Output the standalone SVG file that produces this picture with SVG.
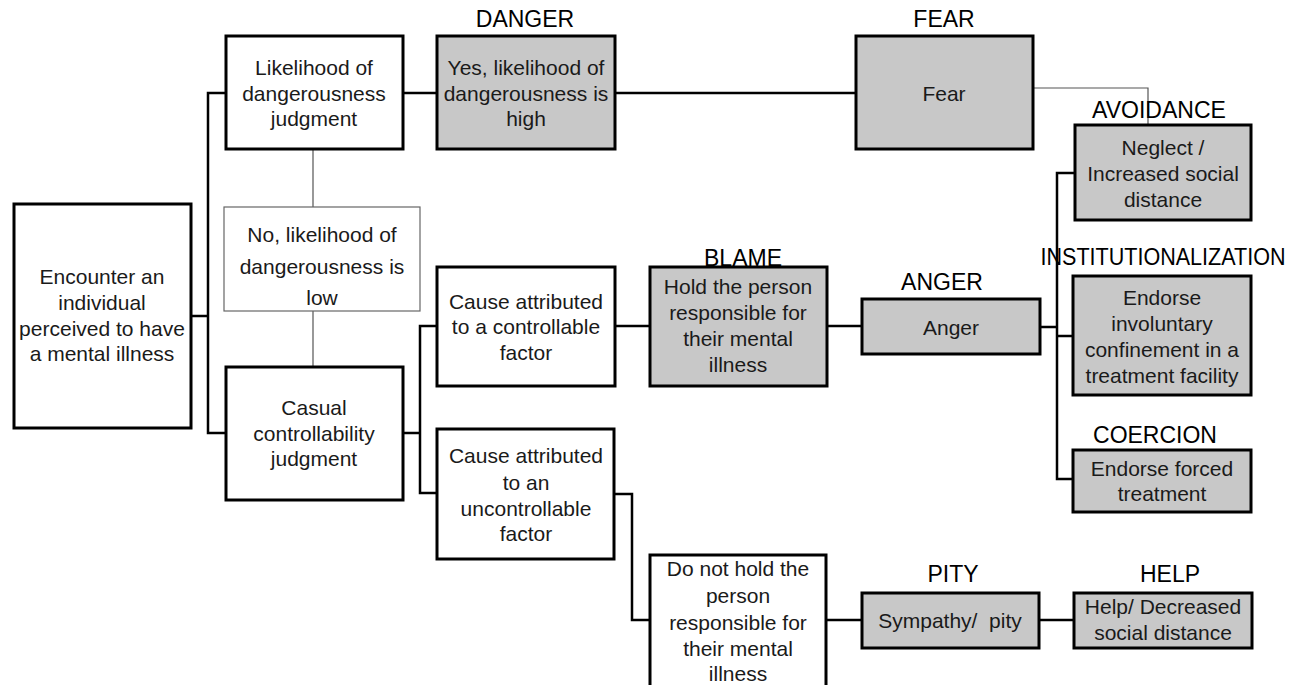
<svg xmlns="http://www.w3.org/2000/svg" width="1303" height="685" viewBox="0 0 1303 685">
<style>
.box{fill:#fff;stroke:#000;stroke-width:3}
.gbox{fill:#c8c8c8;stroke:#000;stroke-width:3}
.tbox{fill:#fff;stroke:#666;stroke-width:1.2}
.t{font-family:"Liberation Sans",Arial,sans-serif;font-size:21px;fill:#1a1a1a;text-anchor:middle;dominant-baseline:central}
.lab{font-family:"Liberation Sans",Arial,sans-serif;font-size:23px;fill:#000;text-anchor:middle}
.c{fill:none;stroke:#000;stroke-width:2.5}
.thin{fill:none;stroke:#555;stroke-width:1.2}
</style>
<rect width="1303" height="685" fill="#fff"/>
<g id="connectors">
<path class="c" d="M191 316 H208 M226 93 H208 V433 H226"/>
<path class="thin" d="M313 149 V207 M313 311 V367"/>
<path class="c" d="M403 93 H437 M615 93 H856"/>
<path class="thin" d="M1033 88 H1148 V125"/>
<path class="c" d="M403 433 H420 M437 326 H420 V493 H437"/>
<path class="c" d="M615 326 H650 M827 326 H862 M1040 327 H1057"/>
<path class="c" d="M1075 173 H1057 V479 H1073 M1057 336 H1073"/>
<path class="c" d="M614 494 H632 V620 H650 M826 620 H862 M1039 620 H1074"/>
</g>
<g id="encounter">
<rect class="box" x="14" y="204" width="177" height="224"/>
<text class="t" x="102" y="276">Encounter an</text>
<text class="t" x="102" y="302">individual</text>
<text class="t" x="102" y="328">perceived to have</text>
<text class="t" x="102" y="353">a mental illness</text>
</g>
<g id="likelihood">
<rect class="box" x="226" y="36" width="177" height="113"/>
<text class="t" x="314" y="67">Likelihood of</text>
<text class="t" x="314" y="93">dangerousness</text>
<text class="t" x="314" y="118">judgment</text>
</g>
<g id="no-low">
<rect class="tbox" x="224" y="207" width="196" height="104"/>
<text class="t" x="322" y="234">No, likelihood of</text>
<text class="t" x="322" y="266">dangerousness is</text>
<text class="t" x="322" y="297">low</text>
</g>
<g id="casual">
<rect class="box" x="226" y="367" width="177" height="133"/>
<text class="t" x="314" y="407">Casual</text>
<text class="t" x="314" y="433">controllability</text>
<text class="t" x="314" y="458">judgment</text>
</g>
<g id="danger">
<text class="lab" x="525" y="27">DANGER</text>
<rect class="gbox" x="437" y="36" width="178" height="113"/>
<text class="t" x="526" y="67">Yes, likelihood of</text>
<text class="t" x="526" y="93">dangerousness is</text>
<text class="t" x="526" y="118">high</text>
</g>
<g id="fear">
<text class="lab" x="944" y="27">FEAR</text>
<rect class="gbox" x="856" y="36" width="177" height="113"/>
<text class="t" x="944" y="93">Fear</text>
</g>
<g id="avoidance">
<text class="lab" x="1159" y="118">AVOIDANCE</text>
<rect class="gbox" x="1075" y="125" width="176" height="95"/>
<text class="t" x="1163" y="147">Neglect /</text>
<text class="t" x="1163" y="173">Increased social</text>
<text class="t" x="1163" y="199">distance</text>
</g>
<g id="controllable">
<rect class="box" x="437" y="267" width="178" height="119"/>
<text class="t" x="526" y="301">Cause attributed</text>
<text class="t" x="526" y="326">to a controllable</text>
<text class="t" x="526" y="352">factor</text>
</g>
<g id="blame">
<rect class="gbox" x="650" y="267" width="177" height="119"/>
<text class="lab" x="743" y="266">BLAME</text>
<text class="t" x="738" y="286">Hold the person</text>
<text class="t" x="738" y="312">responsible for</text>
<text class="t" x="738" y="338">their mental</text>
<text class="t" x="738" y="364">illness</text>
</g>
<g id="anger">
<text class="lab" x="942" y="290">ANGER</text>
<rect class="gbox" x="862" y="299" width="178" height="55"/>
<text class="t" x="951" y="327">Anger</text>
</g>
<g id="institutionalization">
<text class="lab" x="1163" y="265" textLength="245" lengthAdjust="spacingAndGlyphs">INSTITUTIONALIZATION</text>
<rect class="gbox" x="1073" y="276" width="178" height="119"/>
<text class="t" x="1162" y="297">Endorse</text>
<text class="t" x="1162" y="323">involuntary</text>
<text class="t" x="1162" y="349">confinement in a</text>
<text class="t" x="1162" y="375">treatment facility</text>
</g>
<g id="coercion">
<text class="lab" x="1155" y="443">COERCION</text>
<rect class="gbox" x="1073" y="450" width="178" height="62"/>
<text class="t" x="1162" y="468">Endorse forced</text>
<text class="t" x="1162" y="493">treatment</text>
</g>
<g id="uncontrollable">
<rect class="box" x="437" y="429" width="177" height="130"/>
<text class="t" x="526" y="455">Cause attributed</text>
<text class="t" x="526" y="482">to an</text>
<text class="t" x="526" y="508">uncontrollable</text>
<text class="t" x="526" y="533">factor</text>
</g>
<g id="do-not-hold">
<rect class="box" x="650" y="555" width="176" height="135"/>
<text class="t" x="738" y="568">Do not hold the</text>
<text class="t" x="738" y="595">person</text>
<text class="t" x="738" y="622">responsible for</text>
<text class="t" x="738" y="648">their mental</text>
<text class="t" x="738" y="673">illness</text>
</g>
<g id="pity">
<text class="lab" x="953" y="582">PITY</text>
<rect class="gbox" x="862" y="593" width="177" height="55"/>
<text class="t" x="950" y="620" xml:space="preserve">Sympathy/  pity</text>
</g>
<g id="help">
<text class="lab" x="1170" y="582">HELP</text>
<rect class="gbox" x="1074" y="593" width="178" height="55"/>
<text class="t" x="1163" y="606">Help/ Decreased</text>
<text class="t" x="1163" y="632">social distance</text>
</g>
</svg>
